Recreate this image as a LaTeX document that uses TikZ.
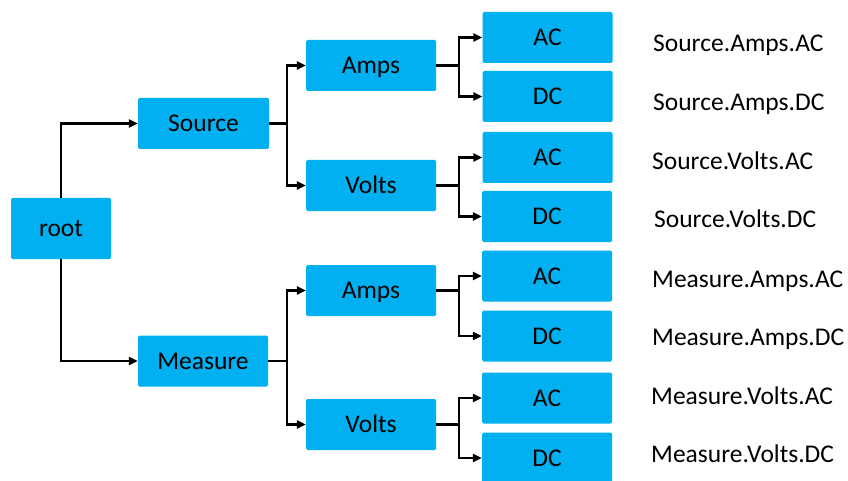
\documentclass[tikz,border=0pt]{standalone}
\usepackage{fontspec}
\setmainfont{Carlito}
\usetikzlibrary{arrows.meta}
\definecolor{boxblue}{HTML}{00B0F0}
\tikzset{
  box/.style={fill=boxblue, rounded corners=1.5pt, minimum width=130pt, minimum height=51pt,
    inner sep=0pt, text height=16.4pt, text depth=0pt, font=\fontsize{25.5}{30}\selectfont},
  pathlabel/.style={anchor=west, inner sep=0pt, text height=16.4pt, text depth=0pt,
    font=\fontsize{25.5}{30}\selectfont},
  conn/.style={line width=2.2pt, -{Triangle[length=9pt,width=8pt]}}
}
\begin{document}
\begin{tikzpicture}[x=1pt,y=-1pt]
\useasboundingbox (0,0) rectangle (848,481);
\node[box, minimum width=100pt, minimum height=61pt] (root) at (61,228.5) {root};
\node[box, minimum width=131pt] (source) at (203.5,123.5) {Source};
\node[box] (measure) at (203,361) {Measure};
\node[box] (amps1) at (371,65.5) {Amps};
\node[box] (volts1) at (371,185.5) {Volts};
\node[box] (amps2) at (371,290.5) {Amps};
\node[box] (volts2) at (371,424.5) {Volts};
\node[box] (ac1) at (547.5,37.5) {AC};
\node[box] (dc1) at (547.5,96.5) {DC};
\node[box] (ac2) at (547.5,157.5) {AC};
\node[box] (dc2) at (547,216.5) {DC};
\node[box] (ac3) at (547,276) {AC};
\node[box] (dc3) at (547,336) {DC};
\node[box] (ac4) at (547,398) {AC};
\node[box] (dc4) at (547,458) {DC};
\draw[conn] (root.north) |- (source.west);
\draw[conn] (root.south) |- (measure.west);
\draw[conn] (source.east) -- ++(18,0) |- (amps1.west);
\draw[conn] (source.east) -- ++(18,0) |- (volts1.west);
\draw[conn] (measure.east) -- ++(19,0) |- (amps2.west);
\draw[conn] (measure.east) -- ++(19,0) |- (volts2.west);
\draw[conn] (amps1.east) -- ++(23,0) |- (ac1.west);
\draw[conn] (amps1.east) -- ++(23,0) |- (dc1.west);
\draw[conn] (volts1.east) -- ++(23,0) |- (ac2.west);
\draw[conn] (volts1.east) -- ++(23,0) |- (dc2.west);
\draw[conn] (amps2.east) -- ++(23,0) |- (ac3.west);
\draw[conn] (amps2.east) -- ++(23,0) |- (dc3.west);
\draw[conn] (volts2.east) -- ++(23,0) |- (ac4.west);
\draw[conn] (volts2.east) -- ++(23,0) |- (dc4.west);
\node[pathlabel] (l1) at (653,43) {Source.Amps.AC};
\node[pathlabel] (l2) at (653,102) {Source.Amps.DC};
\node[pathlabel] (l3) at (652,161) {Source.Volts.AC};
\node[pathlabel] (l4) at (654,219) {Source.Volts.DC};
\node[pathlabel] (l5) at (652,279) {Measure.Amps.AC};
\node[pathlabel] (l6) at (652,337) {Measure.Amps.DC};
\node[pathlabel] (l7) at (651,396) {Measure.Volts.AC};
\node[pathlabel] (l8) at (651,454) {Measure.Volts.DC};
\end{tikzpicture}
\end{document}
